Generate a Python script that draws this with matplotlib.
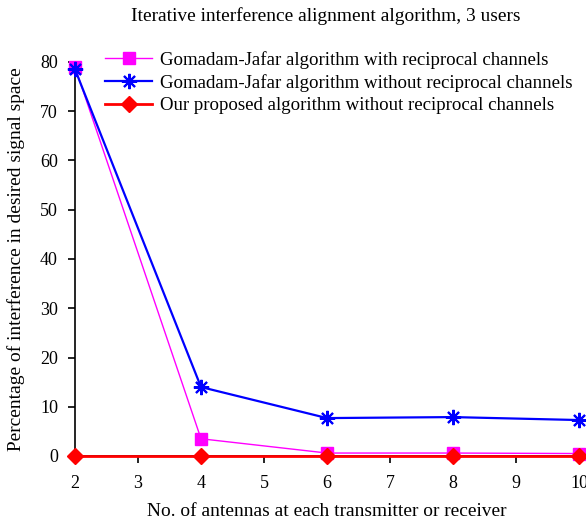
import matplotlib
matplotlib.use("Agg")
import matplotlib.pyplot as plt

antennas = [2, 4, 6, 8, 10]
gj_recip = [79.0, 3.5, 0.6, 0.6, 0.5]
gj_norecip = [78.5, 14.0, 7.7, 7.9, 7.3]
proposed = [0.0, 0.0, 0.0, 0.0, 0.0]

labels = ["Gomadam-Jafar algorithm with reciprocal channels",
          "Gomadam-Jafar algorithm without reciprocal channels",
          "Our proposed algorithm without reciprocal channels"]
title_text = "Iterative interference alignment algorithm, 3 users"
xlabel_text = "No. of antennas at each transmitter or receiver"
ylabel_text = "Percentage of interference in desired signal space"

plt.rcParams['font.family'] = ['Liberation Serif', 'DejaVu Serif']
plt.rcParams['font.size'] = 13

W, H = 586, 521
fig = plt.figure(figsize=(W / 100, H / 100), dpi=100)
ax = fig.add_axes([75 / W, 1 - 456 / H, (579 - 75) / W, (456 - 62) / H])

ax.plot(antennas, gj_recip, color='#ff00ff', lw=1.0, marker='s', ms=9,
        label=labels[0], clip_on=False, zorder=3)
ax.plot(antennas, gj_norecip, color='#0000ff', lw=1.6, marker=(8, 2, 0), ms=11,
        mew=1.5, label=labels[1], clip_on=False, zorder=4)
ax.plot(antennas, proposed, color='#ff0000', lw=2.0, marker='D', ms=8,
        label=labels[2], clip_on=False, zorder=5)

ax.set_xlim(2, 10)
ax.set_ylim(0, 80)
ax.set_xticks(range(2, 11))
ax.set_yticks(range(0, 81, 10))
ax.spines['top'].set_visible(False)
ax.spines['right'].set_visible(False)
ax.spines['left'].set_linewidth(1.2)
ax.spines['bottom'].set_linewidth(1.2)
xpad, ypad = 5.0, 4.0
ax.tick_params(direction='out', length=5, width=1.2, labelsize=13)
ax.tick_params(axis='x', pad=xpad)
ax.tick_params(axis='y', pad=ypad)

xl = ax.set_xlabel(xlabel_text, fontsize=14, labelpad=6)
yl = ax.set_ylabel(ylabel_text, fontsize=14, labelpad=8)
title = fig.text(326 / W, 1 - 16 / H, title_text, ha='center', va='center', fontsize=13)

fig.canvas.draw()
r = fig.canvas.get_renderer()


def bb(t):
    return t.get_window_extent(r)


# font sizes fitted to measured text widths
title.set_fontsize(title.get_fontsize() * 388 / bb(title).width)
xl.set_fontsize(xl.get_fontsize() * 360 / bb(xl).width)
yl.set_fontsize(xl.get_fontsize())
fig.canvas.draw()

# tick label positions
lab = ax.get_xticklabels()[1]
b = bb(lab)
cy = (b.y0 + b.y1) / 2
xpad += (cy - (H - 482 - 1.5)) * 72 / 100
ax.tick_params(axis='x', pad=xpad)
lab = ax.get_yticklabels()[-1]
b = bb(lab)
ypad += (b.x1 - 58) * 72 / 100
ax.tick_params(axis='y', pad=ypad)
fig.canvas.draw()

# axis labels
b = bb(xl)
cy = (b.y0 + b.y1) / 2
xl.set_y(xl.get_position()[1])
ax.xaxis.labelpad += (cy - (H - 510 - 1)) * 72 / 100
b = bb(yl)
cx = (b.x0 + b.x1) / 2
ax.yaxis.labelpad += (cx - 16.5) * 72 / 100
fig.canvas.draw()

# legend
lfs = 14.0
lsp = 0.15
anchor = [100 / W, 1 - 48 / H]


def make_leg(fs, sp, anc):
    fpx = fs * 100 / 72
    return ax.legend(loc='upper left', bbox_to_anchor=tuple(anc),
                     bbox_transform=fig.transFigure, frameon=False, fontsize=fs,
                     handlelength=47 / fpx, borderaxespad=0, borderpad=0,
                     labelspacing=sp, handletextpad=8 / fpx)


leg = make_leg(lfs, lsp, anchor)
fig.canvas.draw()
lfs *= 415 / bb(leg.get_texts()[1]).width
leg.remove()
leg = make_leg(lfs, lsp, anchor)
fig.canvas.draw()
t = leg.get_texts()
c0 = (bb(t[0]).y0 + bb(t[0]).y1) / 2
c2 = (bb(t[2]).y0 + bb(t[2]).y1) / 2
spacing = (c0 - c2) / 2
lsp += (23 - spacing) / (lfs * 100 / 72)
leg.remove()
leg = make_leg(lfs, lsp, anchor)
fig.canvas.draw()
t = leg.get_texts()
b0 = bb(t[0])
c0 = (b0.y0 + b0.y1) / 2
anchor[1] += ((H - 59 - 1) - c0) / H
anchor[0] += (160 - b0.x0) / W
leg.remove()
leg = make_leg(lfs, lsp, anchor)

fig.savefig("out.png", dpi=100)
